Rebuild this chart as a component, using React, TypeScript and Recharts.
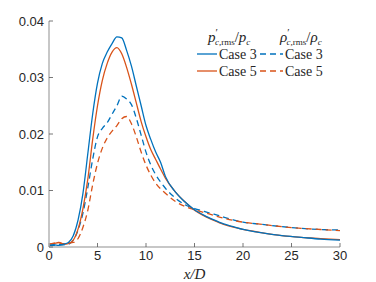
import React from 'react';
import { LineChart, Line, XAxis, YAxis } from 'recharts';

const xs = [0,0.5,1,1.5,2,2.5,3,3.5,4,4.5,5,5.5,6,6.5,7,7.5,8,8.5,9,9.5,10,10.5,11,11.5,12,13,14,15,16,17,18,19,20,22,24,26,28,30];
const p3 = [0.0003,0.0004,0.0003,0.0005,0.0008,0.002,0.0048,0.0095,0.0165,0.0235,0.029,0.0325,0.0345,0.036,0.0372,0.037,0.0348,0.032,0.0285,0.025,0.0215,0.019,0.0168,0.015,0.0125,0.0098,0.008,0.0066,0.0056,0.0048,0.0041,0.0036,0.0031,0.0025,0.002,0.0017,0.0014,0.0012];
const p5 = [0.0005,0.0006,0.0008,0.0005,0.0006,0.0012,0.0032,0.0068,0.012,0.019,0.025,0.0295,0.0325,0.0345,0.0353,0.0342,0.0318,0.0288,0.0255,0.0222,0.0195,0.0172,0.0155,0.0138,0.0122,0.0098,0.008,0.0065,0.0055,0.0047,0.004,0.0035,0.0031,0.0025,0.002,0.0017,0.0015,0.0013];
const r3 = [0.0003,0.0003,0.0004,0.0004,0.0005,0.0012,0.003,0.006,0.0105,0.0155,0.0195,0.021,0.022,0.0235,0.025,0.0267,0.0262,0.0252,0.0228,0.0198,0.0168,0.0145,0.0128,0.0115,0.0104,0.0087,0.0075,0.0068,0.0063,0.0058,0.0053,0.0048,0.0044,0.004,0.0036,0.0033,0.0031,0.003];
const r5 = [0.0005,0.0007,0.0008,0.0006,0.0007,0.0008,0.0015,0.0035,0.0065,0.011,0.0148,0.0175,0.0193,0.0205,0.0215,0.0227,0.0231,0.0218,0.0195,0.0168,0.0145,0.0127,0.0113,0.0103,0.0095,0.0081,0.0072,0.0066,0.0061,0.0056,0.0051,0.0047,0.0044,0.004,0.0036,0.0033,0.0031,0.0029];

const xTicks = [0, 5, 10, 15, 20, 25, 30];
const yTicks = [0, 0.01, 0.02, 0.03, 0.04];
const caseLabels = ['Case 3', 'Case 5'];

const BLUE = '#0072BD';
const RED = '#D95319';

const data = xs.map((x, i) => ({ x, p3: p3[i], p5: p5[i], r3: r3[i], r5: r5[i] }));

const tickStyle = { fontFamily: 'Liberation Sans, Arial, sans-serif', fontSize: 13, fill: '#262626' };
const serif = 'Liberation Serif, Times New Roman, serif';

export default function App() {
  return (
    <div style={{ position: 'absolute', left: 0, top: 0, width: 376, height: 282, background: '#fff' }}>
      <LineChart width={376} height={282} data={data} margin={{ top: 21, right: 36, left: 0, bottom: 0 }}>
        <XAxis dataKey="x" type="number" domain={[0, 30]} ticks={xTicks} height={35}
          tickSize={-4} tickMargin={8} stroke="#b5b5b5" strokeWidth={1.5}
          tick={tickStyle} tickLine={{ stroke: '#555', strokeWidth: 0.8 }}
          label={{ value: 'x/D', position: 'insideBottom', offset: 3, style: { fontStyle: 'italic', fontFamily: serif, fontSize: 15, fill: '#262626' } }} />
        <XAxis xAxisId="top" orientation="top" dataKey="x" type="number" domain={[0, 30]} ticks={xTicks} height={0}
          tickSize={-4} tick={false} stroke="#555" strokeWidth={0.8} />
        <YAxis type="number" domain={[0, 0.04]} ticks={yTicks} width={49}
          tickSize={-4} tickMargin={9} stroke="#b5b5b5" strokeWidth={1.5}
          tick={tickStyle} tickLine={{ stroke: '#555', strokeWidth: 0.8 }}
          tickFormatter={(v: number) => (v === 0 ? '0' : v.toFixed(2))} />
        <YAxis yAxisId="right" orientation="right" type="number" domain={[0, 0.04]} ticks={yTicks} width={0}
          tickSize={-4} tick={false} stroke="#555" strokeWidth={0.8} />
        <Line dataKey="r3" type="monotone" stroke={BLUE} strokeWidth={1.3} strokeDasharray="6 4" dot={false} isAnimationActive={false} />
        <Line dataKey="r5" type="monotone" stroke={RED} strokeWidth={1.3} strokeDasharray="6 4" dot={false} isAnimationActive={false} />
        <Line dataKey="p5" type="monotone" stroke={RED} strokeWidth={1.3} dot={false} isAnimationActive={false} />
        <Line dataKey="p3" type="monotone" stroke={BLUE} strokeWidth={1.3} dot={false} isAnimationActive={false} />
      </LineChart>
      <svg width={376} height={282} style={{ position: 'absolute', left: 0, top: 0, pointerEvents: 'none' }}>
        <text x={208} y={42} fontFamily={serif} fontSize={15} fill="#262626">
          <tspan fontStyle="italic">p</tspan>
          <tspan fontSize={11} dy={-6}>′</tspan>
          <tspan fontSize={9} dx={-3} dy={9} fontStyle="italic">c</tspan>
          <tspan fontSize={9}>,rms</tspan>
          <tspan dy={-3}>/</tspan>
          <tspan fontStyle="italic">p</tspan>
          <tspan fontSize={9} dy={3} fontStyle="italic">c</tspan>
        </text>
        <text x={280} y={42} fontFamily={serif} fontSize={15} fill="#262626">
          <tspan fontStyle="italic">ρ</tspan>
          <tspan fontSize={11} dy={-6}>′</tspan>
          <tspan fontSize={9} dx={-3} dy={9} fontStyle="italic">c</tspan>
          <tspan fontSize={9}>,rms</tspan>
          <tspan dy={-3}>/</tspan>
          <tspan fontStyle="italic">ρ</tspan>
          <tspan fontSize={9} dy={3} fontStyle="italic">c</tspan>
        </text>
        {caseLabels.map((lab, i) => {
          const y = 54 + i * 17;
          const c = i === 0 ? BLUE : RED;
          return (
            <g key={lab}>
              <line x1={197} x2={217} y1={y} y2={y} stroke={c} strokeWidth={1.3} />
              <text x={219} y={y + 5} fontFamily={serif} fontSize={14} fill="#262626">{lab}</text>
              <line x1={260} x2={283} y1={y} y2={y} stroke={c} strokeWidth={1.3} strokeDasharray="6 4" />
              <text x={285} y={y + 5} fontFamily={serif} fontSize={14} fill="#262626">{lab}</text>
            </g>
          );
        })}
      </svg>
    </div>
  );
}
